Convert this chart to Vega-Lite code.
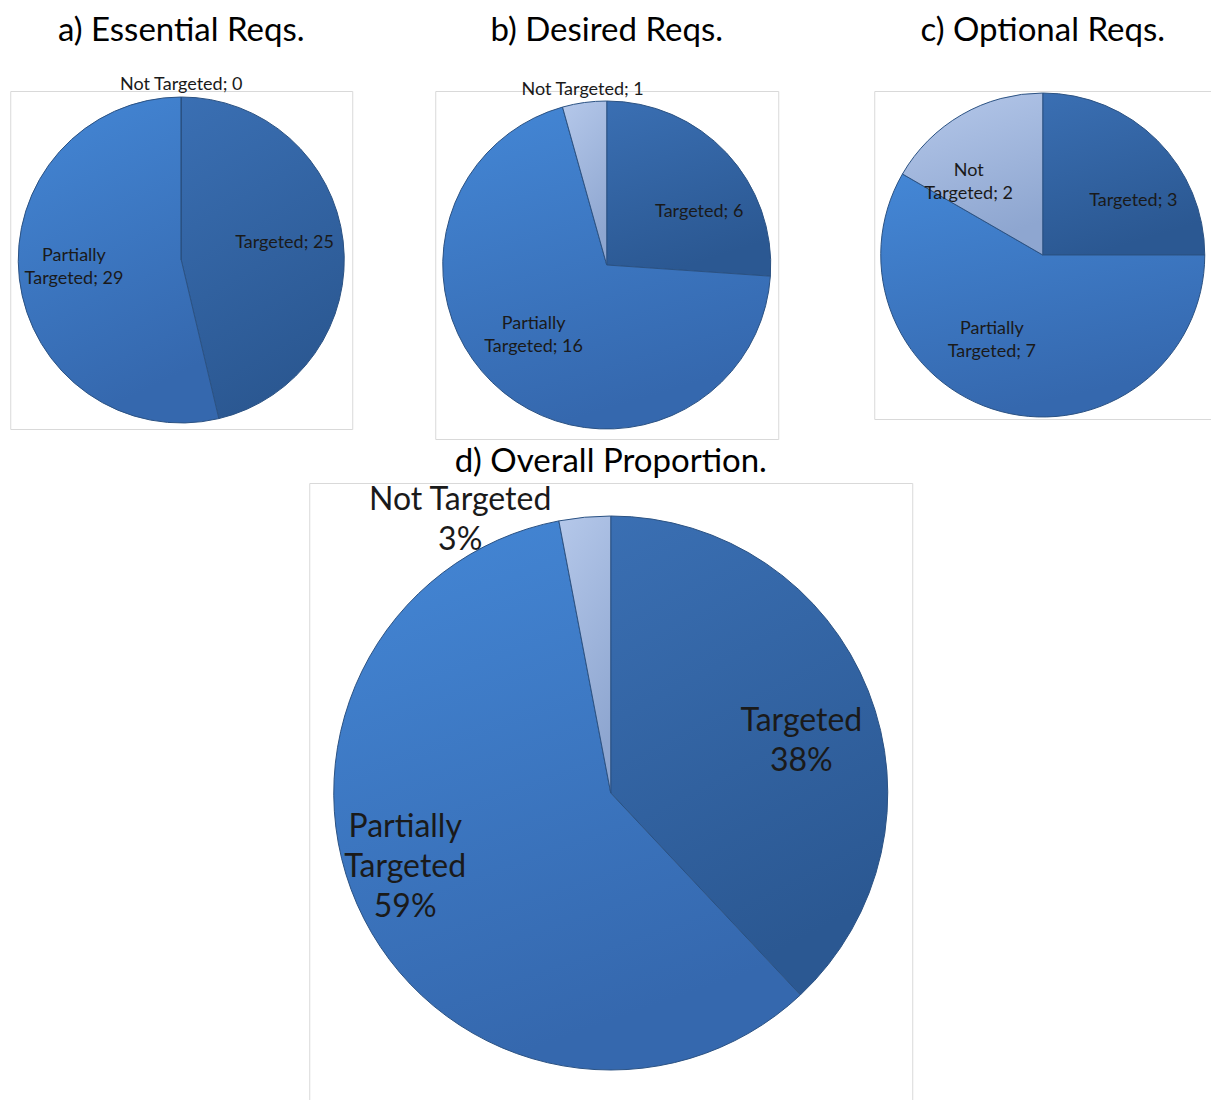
{
  "$schema": "https://vega.github.io/schema/vega-lite/v6.json",
  "padding": {"left": 6, "top": 14, "right": 0, "bottom": 0},
  "background": "white",
  "config": {
    "font": "Lato",
    "view": {"stroke": "#d9d9d9", "strokeWidth": 1},
    "title": {"font": "Lato", "fontSize": 33, "fontWeight": "normal", "color": "#000000", "anchor": "middle", "offset": 43},
    "text": {"color": "#1a1a1a", "lineBreak": "\n"}
  },
  "data": {
    "values": [
      {"panel": "a", "k": 1, "category": "Targeted", "value": 25, "label": "Targeted; 25"},
      {"panel": "a", "k": 2, "category": "Partially Targeted", "value": 29, "label": "Partially\nTargeted; 29"},
      {"panel": "a", "k": 3, "category": "Not Targeted", "value": 0, "label": "Not Targeted; 0"},
      {"panel": "b", "k": 1, "category": "Targeted", "value": 6, "label": "Targeted; 6"},
      {"panel": "b", "k": 2, "category": "Partially Targeted", "value": 16, "label": "Partially\nTargeted; 16"},
      {"panel": "b", "k": 3, "category": "Not Targeted", "value": 1, "label": "Not Targeted; 1"},
      {"panel": "c", "k": 1, "category": "Targeted", "value": 3, "label": "Targeted; 3"},
      {"panel": "c", "k": 2, "category": "Partially Targeted", "value": 7, "label": "Partially\nTargeted; 7"},
      {"panel": "c", "k": 3, "category": "Not Targeted", "value": 2, "label": "Not\nTargeted; 2"},
      {"panel": "d", "k": 1, "category": "Targeted", "value": 38, "label": "Targeted\n38%"},
      {"panel": "d", "k": 2, "category": "Partially Targeted", "value": 59, "label": "Partially\nTargeted\n59%"},
      {"panel": "d", "k": 3, "category": "Not Targeted", "value": 3, "label": "Not Targeted\n3%"}
    ]
  },
  "vconcat": [
    {
      "spacing": 94,
      "hconcat": [
        {
          "spacing": 78,
          "hconcat": [
            {
              "title": {"text": "a) Essential Reqs.", "offset": 28},
              "width": 342, "height": 338,
              "view": {"stroke": "#d9d9d9"},
              "transform": [{"filter": "datum.panel === 'a'"}],
              "encoding": {
                "theta": {"field": "value", "type": "quantitative", "stack": true},
                "order": {"field": "k", "type": "quantitative"}
              },
              "layer": [
                {"mark": {"type": "arc", "outerRadius": 163, "stroke": "#2b5283", "strokeWidth": 1},
                 "encoding": {"fill": {"condition": [
                   {"test": "datum.category === 'Targeted'", "value": {"gradient": "linear", "x1": 0, "y1": 0, "x2": 0.3, "y2": 1, "stops": [{"offset": 0, "color": "#3a6fb3"}, {"offset": 1, "color": "#2b5892"}]}},
                   {"test": "datum.category === 'Partially Targeted'", "value": {"gradient": "linear", "x1": 0, "y1": 0, "x2": 0.3, "y2": 1, "stops": [{"offset": 0, "color": "#4487d6"}, {"offset": 1, "color": "#3568ae"}]}}],
                   "value": {"gradient": "linear", "x1": 0, "y1": 0, "x2": 0.3, "y2": 1, "stops": [{"offset": 0, "color": "#b5c8ea"}, {"offset": 1, "color": "#8ea6d0"}]}}}},
                {"mark": {"type": "text", "radius": 104, "dy": -5, "fontSize": 18, "lineHeight": 23},
                 "encoding": {"text": {"condition": {"test": "datum.category === 'Targeted'", "field": "label"}, "value": ""}, "color": {"value": "#1a1a1a"}}},
                {"mark": {"type": "text", "radius": 108, "dy": -17, "fontSize": 18, "lineHeight": 23},
                 "encoding": {"text": {"condition": {"test": "datum.category === 'Partially Targeted'", "field": "label"}, "value": ""}, "color": {"value": "#1a1a1a"}}},
                {"mark": {"type": "text", "radius": 175, "fontSize": 18, "lineHeight": 23},
                 "encoding": {"text": {"condition": {"test": "datum.category === 'Not Targeted'", "field": "label"}, "value": ""}, "color": {"value": "#1a1a1a"}}}
              ]
            },
            {
              "title": {"text": "b) Desired Reqs.", "offset": 33},
              "width": 343, "height": 348,
              "view": {"stroke": "#d9d9d9"},
              "transform": [{"filter": "datum.panel === 'b'"}],
              "encoding": {
                "theta": {"field": "value", "type": "quantitative", "stack": true},
                "order": {"field": "k", "type": "quantitative"}
              },
              "layer": [
                {"mark": {"type": "arc", "outerRadius": 164, "stroke": "#2b5283", "strokeWidth": 1},
                 "encoding": {"fill": {"condition": [
                   {"test": "datum.category === 'Targeted'", "value": {"gradient": "linear", "x1": 0, "y1": 0, "x2": 0.3, "y2": 1, "stops": [{"offset": 0, "color": "#3a6fb3"}, {"offset": 1, "color": "#2b5892"}]}},
                   {"test": "datum.category === 'Partially Targeted'", "value": {"gradient": "linear", "x1": 0, "y1": 0, "x2": 0.3, "y2": 1, "stops": [{"offset": 0, "color": "#4487d6"}, {"offset": 1, "color": "#3568ae"}]}}],
                   "value": {"gradient": "linear", "x1": 0, "y1": 0, "x2": 0.3, "y2": 1, "stops": [{"offset": 0, "color": "#b5c8ea"}, {"offset": 1, "color": "#8ea6d0"}]}}}},
                {"mark": {"type": "text", "radius": 106, "dx": 15, "dy": 19, "fontSize": 18, "lineHeight": 23},
                 "encoding": {"text": {"condition": {"test": "datum.category === 'Targeted'", "field": "label"}, "value": ""}, "color": {"value": "#1a1a1a"}}},
                {"mark": {"type": "text", "radius": 100, "dx": -10, "dy": -19, "fontSize": 18, "lineHeight": 23},
                 "encoding": {"text": {"condition": {"test": "datum.category === 'Partially Targeted'", "field": "label"}, "value": ""}, "color": {"value": "#1a1a1a"}}},
                {"mark": {"type": "text", "radius": 177, "fontSize": 18, "lineHeight": 23},
                 "encoding": {"text": {"condition": {"test": "datum.category === 'Not Targeted'", "field": "label"}, "value": ""}, "color": {"value": "#1a1a1a"}}}
              ]
            }
          ]
        },
        {
          "title": {"text": "c) Optional Reqs.", "offset": 43},
          "width": 337, "height": 328,
          "view": {"stroke": "#d9d9d9"},
          "transform": [{"filter": "datum.panel === 'c'"}],
          "encoding": {
            "theta": {"field": "value", "type": "quantitative", "stack": true},
            "order": {"field": "k", "type": "quantitative"}
          },
          "layer": [
            {"mark": {"type": "arc", "outerRadius": 162, "stroke": "#2b5283", "strokeWidth": 1},
             "encoding": {"fill": {"condition": [
               {"test": "datum.category === 'Targeted'", "value": {"gradient": "linear", "x1": 0, "y1": 0, "x2": 0.3, "y2": 1, "stops": [{"offset": 0, "color": "#3a6fb3"}, {"offset": 1, "color": "#2b5892"}]}},
               {"test": "datum.category === 'Partially Targeted'", "value": {"gradient": "linear", "x1": 0, "y1": 0, "x2": 0.3, "y2": 1, "stops": [{"offset": 0, "color": "#4487d6"}, {"offset": 1, "color": "#3568ae"}]}}],
               "value": {"gradient": "linear", "x1": 0, "y1": 0, "x2": 0.3, "y2": 1, "stops": [{"offset": 0, "color": "#b5c8ea"}, {"offset": 1, "color": "#8ea6d0"}]}}}},
            {"mark": {"type": "text", "radius": 104, "dx": 17, "dy": 20, "fontSize": 18, "lineHeight": 23},
             "encoding": {"text": {"condition": {"test": "datum.category === 'Targeted'", "field": "label"}, "value": ""}, "color": {"value": "#1a1a1a"}}},
            {"mark": {"type": "text", "radius": 100, "dx": -25, "dy": -23, "fontSize": 18, "lineHeight": 23},
             "encoding": {"text": {"condition": {"test": "datum.category === 'Partially Targeted'", "field": "label"}, "value": ""}, "color": {"value": "#1a1a1a"}}},
            {"mark": {"type": "text", "radius": 104, "dx": -22, "dy": 6, "fontSize": 18, "lineHeight": 23},
             "encoding": {"text": {"condition": {"test": "datum.category === 'Not Targeted'", "field": "label"}, "value": ""}, "color": {"value": "#1a1a1a"}}}
          ]
        }
      ]
    },
    {
      "title": {"text": "d) Overall Proportion.", "offset": 4},
      "width": 603, "height": 620,
      "view": {"stroke": "#d9d9d9"},
      "transform": [{"filter": "datum.panel === 'd'"}],
      "encoding": {
        "theta": {"field": "value", "type": "quantitative", "stack": true},
        "order": {"field": "k", "type": "quantitative"}
      },
      "layer": [
        {"mark": {"type": "arc", "outerRadius": 277, "stroke": "#2b5283", "strokeWidth": 1},
         "encoding": {"fill": {"condition": [
           {"test": "datum.category === 'Targeted'", "value": {"gradient": "linear", "x1": 0, "y1": 0, "x2": 0.3, "y2": 1, "stops": [{"offset": 0, "color": "#3a6fb3"}, {"offset": 1, "color": "#2b5892"}]}},
           {"test": "datum.category === 'Partially Targeted'", "value": {"gradient": "linear", "x1": 0, "y1": 0, "x2": 0.3, "y2": 1, "stops": [{"offset": 0, "color": "#4487d6"}, {"offset": 1, "color": "#3568ae"}]}}],
           "value": {"gradient": "linear", "x1": 0, "y1": 0, "x2": 0.3, "y2": 1, "stops": [{"offset": 0, "color": "#b5c8ea"}, {"offset": 1, "color": "#8ea6d0"}]}}}},
        {"mark": {"type": "text", "radius": 205, "dy": 3, "fontSize": 32, "lineHeight": 40},
         "encoding": {"text": {"condition": {"test": "datum.category === 'Targeted'", "field": "label"}, "value": ""}, "color": {"value": "#1a1a1a"}}},
        {"mark": {"type": "text", "radius": 215, "dx": -14, "dy": -64, "fontSize": 32, "lineHeight": 40},
         "encoding": {"text": {"condition": {"test": "datum.category === 'Partially Targeted'", "field": "label"}, "value": ""}, "color": {"value": "#1a1a1a"}}},
        {"mark": {"type": "text", "radius": 293, "dx": -123, "dy": -1, "fontSize": 32, "lineHeight": 40},
         "encoding": {"text": {"condition": {"test": "datum.category === 'Not Targeted'", "field": "label"}, "value": ""}, "color": {"value": "#1a1a1a"}}}
      ]
    }
  ],
  "spacing": 5,
  "center": true
}
